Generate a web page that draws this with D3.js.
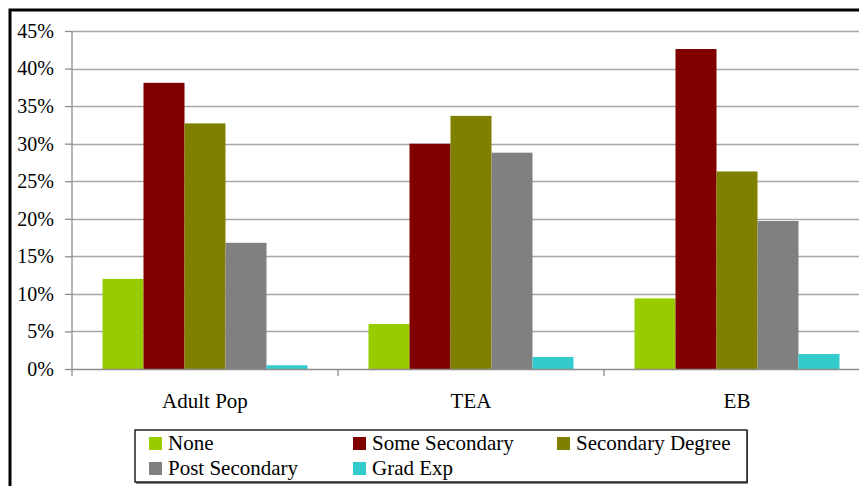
<!DOCTYPE html>
<html>
<head>
<meta charset="utf-8">
<script src="https://cdn.jsdelivr.net/npm/d3@7"></script>
<style>
  html, body { margin: 0; padding: 0; background: #fff; }
  svg { display: block; }
</style>
</head>
<body>
<svg id="chart" width="859" height="486"></svg>
<script>
const categories = ["Adult Pop", "TEA", "EB"];
const seriesNames = ["None", "Some Secondary", "Secondary Degree", "Post Secondary", "Grad Exp"];
const seriesColors = ["#99cc00", "#800000", "#808000", "#808080", "#33cccc"];
const noneValues = [12.0, 6.0, 9.4];
const someSecondaryValues = [38.1, 30.0, 42.6];
const secondaryDegreeValues = [32.7, 33.7, 26.3];
const postSecondaryValues = [16.8, 28.8, 19.7];
const gradExpValues = [0.5, 1.6, 2.0];
const yTicks = [0, 5, 10, 15, 20, 25, 30, 35, 40, 45];

const seriesValues = [noneValues, someSecondaryValues, secondaryDegreeValues, postSecondaryValues, gradExpValues];
const FONT = "'Liberation Serif', 'Times New Roman', Tinos, serif";

const svg = d3.select("#chart");

// outer frame
svg.append("rect")
  .attr("x", 10).attr("y", 10)
  .attr("width", 900).attr("height", 520)
  .attr("fill", "none").attr("stroke", "#000").attr("stroke-width", 3);

const plotLeft = 72, plotRight = 870, plotTop = 31, plotBottom = 369;

const x = d3.scaleBand().domain(categories).range([plotLeft, plotRight]).paddingInner(0).paddingOuter(0);
const xs = d3.scaleBand().domain(seriesNames).range([0, x.bandwidth()]).paddingInner(0).paddingOuter(0.744);
const y = d3.scaleLinear().domain([0, 45]).range([plotBottom, plotTop]);

// gridlines
svg.append("g").selectAll("line").data(yTicks.filter(d => d > 0)).join("line")
  .attr("x1", plotLeft).attr("x2", plotRight)
  .attr("y1", d => Math.round(y(d)) + 0.5).attr("y2", d => Math.round(y(d)) + 0.5)
  .attr("stroke", "#a6a6a6").attr("stroke-width", 1.3);

// bars
const groups = svg.append("g").selectAll("g").data(categories).join("g")
  .attr("transform", d => `translate(${x(d)},0)`);
groups.selectAll("rect")
  .data((c, ci) => seriesNames.map((s, si) => ({ s, si, v: seriesValues[si][ci] })))
  .join("rect")
  .attr("x", d => xs(d.s))
  .attr("width", xs.bandwidth())
  .attr("y", d => y(d.v))
  .attr("height", d => y(0) - y(d.v))
  .attr("fill", d => seriesColors[d.si]);

// y axis
const yAxis = svg.append("g").attr("transform", `translate(${plotLeft},0)`)
  .call(d3.axisLeft(y).tickValues(yTicks).tickSize(7).tickPadding(11).tickFormat(d => d + "%"));
yAxis.attr("font-family", null).attr("font-size", null);
yAxis.select(".domain").remove();
yAxis.selectAll(".tick line").attr("stroke", "#8c8c8c").attr("stroke-width", 1.3);
yAxis.selectAll(".tick text").style("font-size", "20px").style("font-family", FONT).attr("fill", "#000");
yAxis.append("line").attr("x1", 0).attr("x2", 0).attr("y1", plotTop).attr("y2", plotBottom + 7)
  .attr("stroke", "#8c8c8c").attr("stroke-width", 1.3);

// x axis
const xAxisG = svg.append("g").attr("transform", `translate(0,${plotBottom})`);
xAxisG.append("line").attr("x1", plotLeft).attr("x2", plotRight).attr("y1", 0.5).attr("y2", 0.5)
  .attr("stroke", "#8c8c8c").attr("stroke-width", 1.3);
xAxisG.selectAll("line.tk").data(categories).join("line")
  .attr("class", "tk")
  .attr("x1", d => x(d) + x.bandwidth())
  .attr("x2", d => x(d) + x.bandwidth())
  .attr("y1", 0).attr("y2", 7)
  .attr("stroke", "#8c8c8c").attr("stroke-width", 1.3);
xAxisG.selectAll("text").data(categories).join("text")
  .attr("x", d => x(d) + x.bandwidth() / 2)
  .attr("y", 39)
  .attr("text-anchor", "middle")
  .style("font-size", "21px").style("font-family", FONT)
  .text(d => d);

// legend
const legend = svg.append("g");
legend.append("rect").attr("x", 136).attr("y", 431).attr("width", 612).attr("height", 53)
  .attr("fill", "#888");
legend.append("rect").attr("x", 135).attr("y", 430).attr("width", 612).attr("height", 52)
  .attr("fill", "#fff").attr("stroke", "#000").attr("stroke-width", 1.3);
const cols = 3;
const items = legend.selectAll("g.item").data(seriesNames).join("g")
  .attr("class", "item")
  .attr("transform", (d, i) => `translate(${149 + (i % cols) * 204},${437 + Math.floor(i / cols) * 25})`);
items.append("rect").attr("width", 13).attr("height", 13).attr("fill", (d, i) => seriesColors[i]);
items.append("text").attr("x", 19).attr("y", 13)
  .style("font-size", "21px").style("font-family", FONT).text(d => d);
</script>
</body>
</html>
